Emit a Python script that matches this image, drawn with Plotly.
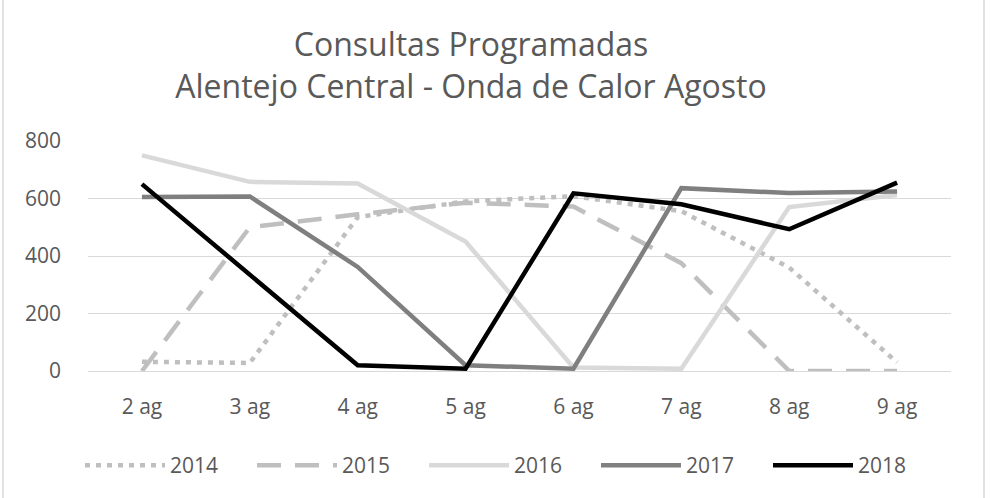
import plotly.graph_objects as go

days = ["2 ag", "3 ag", "4 ag", "5 ag", "6 ag", "7 ag", "8 ag", "9 ag"]
v2014 = [32, 28, 535, 590, 608, 556, 360, 30]
v2015 = [0, 500, 545, 585, 572, 375, 0, 0]
v2016 = [750, 658, 652, 450, 12, 8, 570, 612]
v2017 = [605, 607, 362, 20, 8, 636, 619, 624]
v2018 = [650, 333, 20, 8, 618, 580, 493, 655]
yticks = [0, 200, 400, 600, 800]

FONT = "Open Sans"
TXT = "#595959"

series = [
    ("2014", v2014, "#bfbfbf", "5px,6px"),
    ("2015", v2015, "#bfbfbf", "24px,14px"),
    ("2016", v2016, "#d9d9d9", "solid"),
    ("2017", v2017, "#7f7f7f", "solid"),
    ("2018", v2018, "#000000", "solid"),
]

fig = go.Figure()
for name, vals, col, dash in series:
    fig.add_trace(go.Scatter(
        x=days, y=vals, name=name, mode="lines",
        line=dict(color=col, width=4.5, dash=dash),
    ))

L, R, T, B = 88, 50, 141, 127
W, H = 1001, 498
pw, ph = W - L - R, H - T - B

def px_x(p):
    return (p - L) / pw

def px_y(p):
    return (H - B - p) / ph

fig.update_layout(
    width=W, height=H,
    margin=dict(l=L, r=R, t=T, b=B, autoexpand=False),
    paper_bgcolor="white", plot_bgcolor="white",
    font=dict(family=FONT, color=TXT, size=21),
    title=dict(
        text="Consultas Programadas<br>Alentejo Central - Onda de Calor Agosto",
        x=471 / W, xanchor="center", xref="container",
        y=1 - 56 / H, yanchor="top", yref="container",
        font=dict(family=FONT, size=32, color=TXT),
    ),
    xaxis=dict(
        type="category", range=[-0.5, 7.5],
        showgrid=False, showline=False, zeroline=False,
        ticks="", tickfont=dict(size=21, color=TXT),
        ticklabelstandoff=21,
    ),
    yaxis=dict(
        range=[0, 800], tickvals=yticks, ticktext=[str(v) for v in yticks],
        showgrid=True, gridcolor="#d9d9d9", gridwidth=1.3,
        zeroline=True, zerolinecolor="#d9d9d9", zerolinewidth=1.3,
        showline=False, ticks="", tickfont=dict(size=21, color=TXT),
        ticklabelstandoff=26,
    ),
    showlegend=True,
    legend=dict(
        orientation="h", x=px_x(80), xanchor="left",
        y=px_y(445), yanchor="top",
        itemwidth=80,
        entrywidth=77, entrywidthmode="pixels",
        font=dict(size=21, color=TXT), bgcolor="rgba(0,0,0,0)",
        traceorder="normal",
    ),
    shapes=[dict(
        type="rect", xref="paper", yref="paper",
        x0=px_x(3), x1=px_x(984), y0=px_y(505), y1=px_y(-5),
        line=dict(color="#d9d9d9", width=1.5), fillcolor="rgba(0,0,0,0)",
        layer="below",
    )],
)

fig.write_html("out.html", config={"displayModeBar": False},
               post_script="document.body.style.margin='0';")
